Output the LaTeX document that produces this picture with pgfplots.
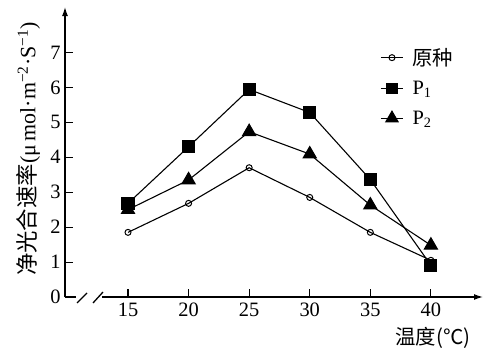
\documentclass[border=0pt]{standalone}
\usepackage{pgfplots}
\pgfplotsset{compat=1.18}
\usetikzlibrary{arrows.meta}
\usepackage{fontspec}
\setmainfont{Liberation Serif}
\newfontfamily\cjk{Noto Sans CJK SC}
\begin{document}
\begin{tikzpicture}
\useasboundingbox (-65bp,-63bp) rectangle (432bp,297bp);
\begin{axis}[
  at={(0,0)}, anchor=south west,
  scale only axis, width=418bp, height=290bp,
  xmin=9.8, xmax=44.3, ymin=0, ymax=8.3,
  axis lines=left,
  x axis line style={draw=none},
  y axis line style={line width=1.3pt, -{Latex[length=9bp,width=6bp]}},
  xtick={15,20,25,30,35,40}, ytick={0,1,2,3,4,5,6,7},
  xtick align=inside, ytick align=inside,
  x tick style={line width=1.1pt, black}, y tick style={line width=1pt, black},
  xtick pos=bottom,
  x tick label style={font=\fontsize{20.5}{20}\selectfont, yshift=-2bp},
  y tick label style={font=\fontsize{20.5}{20}\selectfont, xshift=-1bp},
  major tick length=8bp,
  /pgf/number format/assume math mode=true,
  clip=false,
  every axis y label/.style={at={(axis description cs:-0.088,0.51)}, rotate=90, anchor=center},
  every axis x label/.style={at={(axis description cs:0.880,-0.141)}, anchor=center},
  ylabel={\fontsize{22}{20}\selectfont{\cjk\fontsize{22.5}{20}\selectfont 净光合速率}(μ\,mol·m\textsuperscript{−2}·S\textsuperscript{−1})},
  xlabel={\fontsize{20.5}{20}\selectfont\cjk 温度(℃)},
  legend style={draw=none, fill=none, at={(axis description cs:0.754,0.865)}, anchor=north west,
    font=\fontsize{20.5}{20}\selectfont, row sep=10.5bp, inner sep=0pt,
    /tikz/every odd column/.style={column sep=7bp}},
  legend cell align=left,
  legend image code/.code={\draw[mark repeat=2,mark phase=2] plot coordinates {(0cm,0cm)(0.39cm,0cm)(0.78cm,0cm)};},
]
\addplot[black, line width=1.1pt, mark=o, mark size=3bp, mark options={fill=white, line width=1pt}]
  coordinates {(15,1.85)(20,2.68)(25,3.70)(30,2.85)(35,1.85)(40,1.05)};
\addlegendentry{\cjk 原种}
\addplot[black, line width=1.1pt, mark=square*, mark size=6bp, legend image post style={mark size=5bp}]
  coordinates {(15,2.68)(20,4.30)(25,5.94)(30,5.28)(35,3.36)(40,0.91)};
\addlegendentry{P\textsubscript{1}}
\addplot[black, line width=1.1pt, mark=triangle*, mark size=7.5bp, legend image post style={mark size=7bp}]
  coordinates {(15,2.50)(20,3.35)(25,4.73)(30,4.09)(35,2.63)(40,1.48)};
\addlegendentry{P\textsubscript{2}}
\end{axis}
\draw[line width=1.3pt] (0,0) -- (11bp,0);
\draw[line width=1.3pt] (12bp,-6bp) -- (22bp,4bp);
\draw[line width=1.3pt] (28bp,-6bp) -- (38bp,5bp);
\draw[line width=1.3pt, -{Latex[length=9bp,width=6bp]}] (37bp,0) -- (418bp,0);
\end{tikzpicture}
\end{document}
